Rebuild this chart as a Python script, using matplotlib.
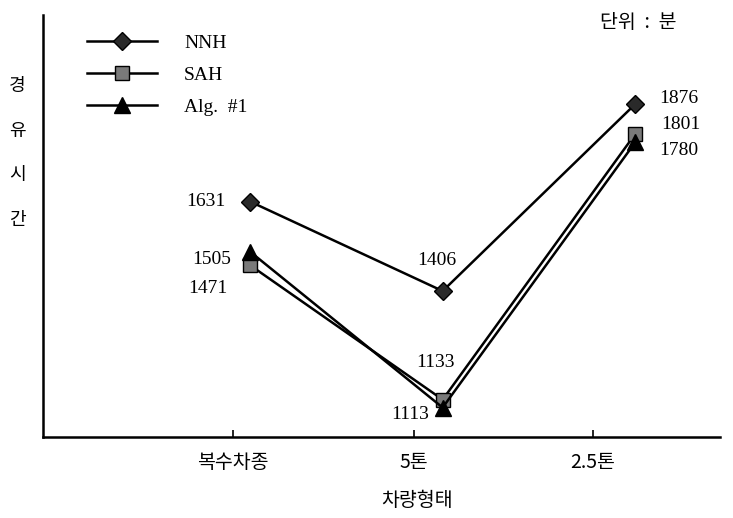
import matplotlib
matplotlib.use('Agg')
from matplotlib import pyplot as plt

CATEGORIES = ['복수차종', '5톤', '2.5톤']
NNH = [1631, 1406, 1876]
SAH = [1471, 1133, 1801]
ALG1 = [1505, 1113, 1780]
SERIES = ['NNH', 'SAH', 'Alg.  #1']

KR = ['Noto Sans CJK KR', 'DejaVu Sans']
SERIF = ['Liberation Serif', 'DejaVu Serif']

fig = plt.figure(figsize=(7.33, 5.18), dpi=100)
ax = fig.add_axes([43 / 733, 81 / 518, 677 / 733, 422 / 518])

x = list(range(len(CATEGORIES)))
ax.plot(x, NNH, color='black', lw=1.8, marker='D', ms=9, mfc='#2a2a2a', mec='black', label=SERIES[0], zorder=3)
ax.plot(x, SAH, color='black', lw=1.8, marker='s', ms=10, mfc='#7a7a7a', mec='black', label=SERIES[1], zorder=3)
ax.plot(x, ALG1, color='black', lw=1.8, marker='^', ms=11, mfc='black', mec='black', label=SERIES[2], zorder=4)

ax.set_xlim(-1.075, 2.44)
ax.set_ylim(1039, 2100)

# value labels, offsets in points
offsets = {
    'NNH': [(-18, 0, 'right'), (-4, 22, 'center'), (17, 4, 'left')],
    'SAH': [(-16, -17, 'right'), (-5, 27, 'center'), (19, 7, 'left')],
    'ALG': [(-14, -6, 'right'), (-10, -5, 'right'), (17, -6, 'left')],
}
for key, vals in (('NNH', NNH), ('SAH', SAH), ('ALG', ALG1)):
    for i, v in enumerate(vals):
        dx, dy, ha = offsets[key][i]
        ax.annotate(str(v), (i, v), xytext=(dx, dy), textcoords='offset points',
                    ha=ha, va='center', fontsize=14, family=SERIF)

# axes styling
for s in ['top', 'right']:
    ax.spines[s].set_visible(False)
for s in ['left', 'bottom']:
    ax.spines[s].set_linewidth(1.8)
ax.set_yticks([])
ax.set_xticks([-0.09, 0.85, 1.78])
ax.set_xticklabels(CATEGORIES, family=KR, fontsize=14)
ax.tick_params(axis='x', direction='in', length=5, width=1.2, pad=11)
ax.set_xlabel('차량형태', family=KR, fontsize=14)
ax.xaxis.set_label_coords(0.552, -0.125)

fig.text(17 / 733, 1 - 153 / 518, '경\n유\n시\n간', family=KR, fontsize=13,
         ha='center', va='center', linespacing=2.9)
fig.text(638 / 733, 1 - 22 / 518, '단위  :  분', family=KR, fontsize=14,
         ha='center', va='center')

ax.legend(loc='upper left', bbox_to_anchor=(0.065, 0.955), frameon=False,
          prop={'family': SERIF, 'size': 14}, handlelength=3.6,
          handletextpad=1.4, labelspacing=0.75, borderpad=0, borderaxespad=0)

fig.savefig('out.png', dpi=100)
